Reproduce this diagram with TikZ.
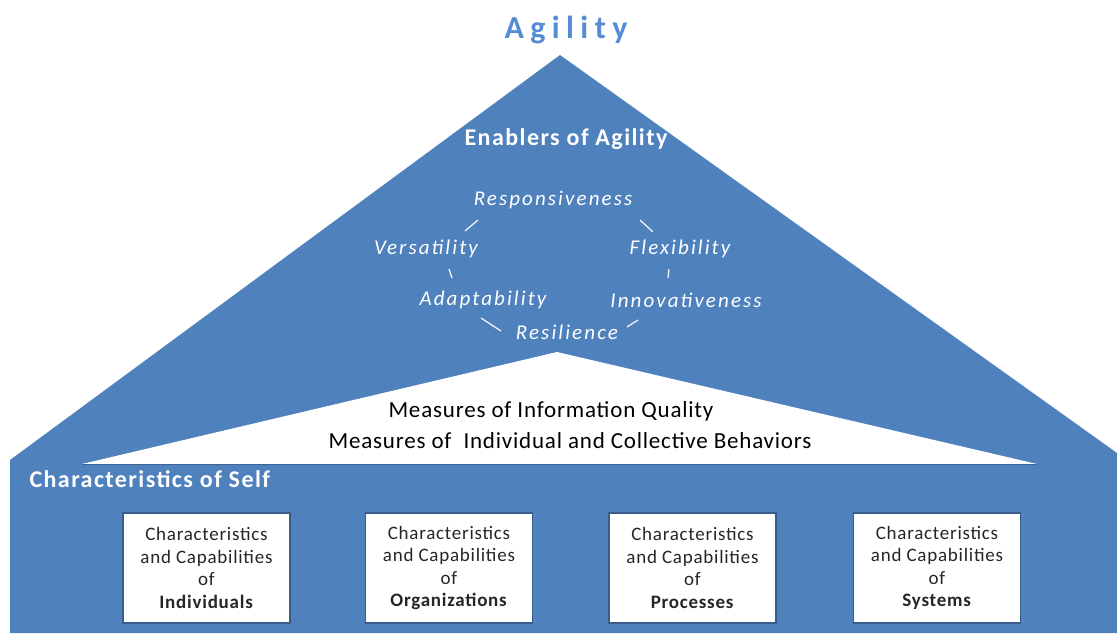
\documentclass[tikz,border=0pt]{standalone}
\usepackage{fontspec}
\setmainfont{Carlito}
\definecolor{officeblue}{RGB}{79,129,189}
\definecolor{agilityblue}{RGB}{84,141,212}
\definecolor{boxborder}{RGB}{56,93,138}
\definecolor{basedark}{RGB}{60,100,150}
\begin{document}
\begin{tikzpicture}[x=1pt,y=-1pt,
  title/.style={font=\fontsize{32}{38}\selectfont\bfseries\addfontfeatures{LetterSpace=20},text=agilityblue},
  head/.style={font=\fontsize{24}{28}\selectfont\bfseries\addfontfeatures{LetterSpace=6},text=white},
  enabler/.style={font=\fontsize{21}{25}\selectfont\itshape\addfontfeatures{LetterSpace=10},text=white},
  measure/.style={font=\fontsize{23}{27}\selectfont\addfontfeatures{LetterSpace=3.5},text=black},
  capbox/.style={draw=boxborder,line width=1.2pt,fill=white,minimum width=167pt,minimum height=110pt,
     align=center,font=\fontsize{19}{22.5}\selectfont\addfontfeatures{LetterSpace=4},text=black!85,inner sep=0pt},
  tick/.style={draw=white!90!officeblue,line width=1.3pt}]
\useasboundingbox (0,0) rectangle (1117,633);
% blue house shape
\fill[officeblue] (560,55) -- (1117,453) -- (1117,633) -- (10,633) -- (10,460) -- cycle;
% white inner triangle
\fill[white] (557,352) -- (1037,464) -- (82,464) -- cycle;
\draw[basedark,line width=1.2pt] (82,464.5) -- (1037,464.5);
% texts
\node[title] (agility) at (566,30) {Agility};
\node[head] (enab) at (566,139) {Enablers of Agility};
\node[enabler] (resp) at (553,200) {Responsiveness};
\node[enabler] (vers) at (426,249) {Versatility};
\node[enabler] (flex) at (680,249) {Flexibility};
\node[enabler] (adap) at (483,300) {Adaptability};
\node[enabler] (inno) at (686,300) {Innovativeness};
\node[enabler] (resi) at (567,332) {Resilience};
\draw[tick] (465,231) -- (478,220);
\draw[tick] (640,220) -- (653,232);
\draw[tick] (449,269) -- (452,278);
\draw[tick] (669,269) -- (668,278);
\draw[tick] (481,318) -- (501,331);
\draw[tick] (627,327) -- (638,320);
\node[measure] (m1) at (551,411) {Measures of Information Quality};
\node[measure] (m2) at (570,441) {Measures of\ \ Individual and Collective Behaviors};
\node[head,anchor=west] (self) at (26,479) {Characteristics of Self};
\node[capbox] (b1) at (206.5,568) {Characteristics\\and Capabilities\\of\\\textbf{Individuals}};
\node[capbox] (b2) at (449,568) {Characteristics\\and Capabilities\\of\\\textbf{Organizations}};
\node[capbox] (b3) at (692.5,568) {Characteristics\\and Capabilities\\of\\\textbf{Processes}};
\node[capbox] (b4) at (937,568) {Characteristics\\and Capabilities\\of\\\textbf{Systems}};
\end{tikzpicture}
\end{document}
